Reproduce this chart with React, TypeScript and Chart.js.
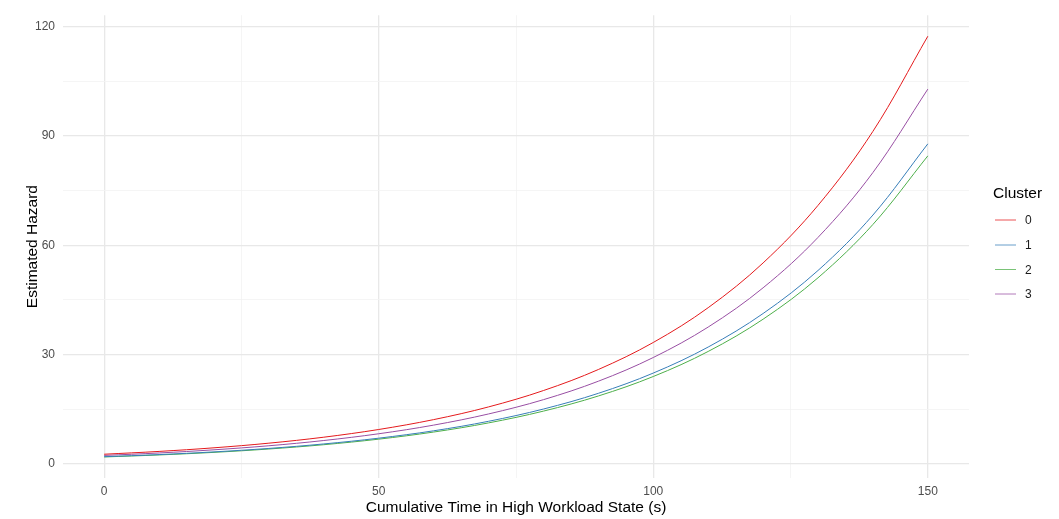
import React, { useEffect, useRef } from "react";
import { Chart, registerables } from "chart.js";

Chart.register(...registerables);

const timeValues = [0, 10, 20, 30, 40, 50, 60, 70, 80, 90, 100, 110, 120, 130, 140, 150];
const clusterLabels = ["0", "1", "2", "3"];
const cluster0 = [2.69, 3.46, 4.45, 5.72, 7.36, 9.47, 12.18, 15.66, 20.15, 25.92, 33.33, 42.87, 55.14, 70.92, 91.22, 117.3];
const cluster1 = [2.01, 2.59, 3.33, 4.28, 5.51, 7.09, 9.11, 11.72, 15.08, 19.39, 24.94, 32.08, 41.27, 53.07, 68.27, 87.8];
const cluster2 = [1.94, 2.49, 3.2, 4.12, 5.3, 6.82, 8.77, 11.28, 14.51, 18.66, 24.0, 30.87, 39.71, 51.07, 65.69, 84.5];
const cluster3 = [2.36, 3.03, 3.9, 5.01, 6.45, 8.3, 10.67, 13.73, 17.65, 22.71, 29.21, 37.56, 48.32, 62.14, 79.93, 102.8];
const seriesValues = [cluster0, cluster1, cluster2, cluster3];
const seriesColors = ["#E41A1C", "#377EB8", "#4DAF4A", "#984EA3"];
const xTickValues = [0, 25, 50, 75, 100, 125, 150];
const xMajor = [0, 50, 100, 150];
const yTickValues = [0, 15, 30, 45, 60, 75, 90, 105, 120];
const yMajor = [0, 30, 60, 90, 120];

const FONT = "'Liberation Sans', Arial, Helvetica, sans-serif";

const legendPlugin = {
  id: "ggLegend",
  afterDraw(chart: any) {
    const ctx = chart.ctx;
    ctx.save();
    ctx.fillStyle = "#000000";
    ctx.font = `15.5px ${FONT}`;
    ctx.textAlign = "left";
    ctx.textBaseline = "middle";
    ctx.fillText("Cluster", 993, 194);
    const ys = [220, 245, 269.5, 294];
    clusterLabels.forEach((lab, i) => {
      ctx.strokeStyle = seriesColors[i];
      ctx.globalAlpha = 0.75;
      ctx.lineWidth = 1;
      ctx.beginPath();
      ctx.moveTo(995, ys[i]);
      ctx.lineTo(1016, ys[i]);
      ctx.stroke();
      ctx.globalAlpha = 1;
      ctx.fillStyle = "#1A1A1A";
      ctx.font = `12px ${FONT}`;
      ctx.fillText(lab, 1025, ys[i] + 1);
    });
    ctx.restore();
  },
};

export default function App() {
  const canvasRef = useRef<HTMLCanvasElement | null>(null);

  useEffect(() => {
    if (!canvasRef.current) return;
    const chart = new Chart(canvasRef.current, {
      type: "line",
      data: {
        datasets: seriesValues.map((vals, i) => ({
          label: clusterLabels[i],
          data: vals.map((v, j) => ({ x: timeValues[j], y: v })),
          borderColor: seriesColors[i],
          backgroundColor: seriesColors[i],
          borderWidth: 1,
          pointRadius: 0,
          tension: 0.35,
          fill: false,
        })),
      },
      options: {
        animation: false,
        responsive: false,
        maintainAspectRatio: false,
        layout: { padding: { top: 13, right: 90, bottom: 0, left: 0 } },
        plugins: {
          legend: { display: false },
          tooltip: { enabled: false },
        },
        scales: {
          x: {
            type: "linear",
            min: -7.5,
            max: 157.5,
            afterBuildTicks: (scale: any) => {
              scale.ticks = xTickValues.map((v) => ({ value: v }));
            },
            afterFit: (scale: any) => {
              scale.height = 41;
            },
            border: { display: false },
            grid: {
              drawTicks: false,
              color: (c: any) => (xMajor.includes(c.tick?.value) ? "#E8E8E8" : "#F3F3F3"),
              lineWidth: (c: any) => (xMajor.includes(c.tick?.value) ? 1.3 : 0.8),
            },
            ticks: {
              autoSkip: false,
              maxRotation: 0,
              padding: 6,
              color: "#4D4D4D",
              font: { family: FONT, size: 12 },
              callback: (v: any) => (xMajor.includes(Number(v)) ? String(v) : ""),
            },
            title: {
              display: true,
              text: "Cumulative Time in High Workload State (s)",
              color: "#000000",
              font: { family: FONT, size: 15.5 },
              padding: { top: 0, bottom: 2 },
            },
          },
          y: {
            type: "linear",
            min: -3.83,
            max: 123.07,
            afterBuildTicks: (scale: any) => {
              scale.ticks = yTickValues.map((v) => ({ value: v }));
            },
            afterFit: (scale: any) => {
              scale.width = 63;
            },
            border: { display: false },
            grid: {
              drawTicks: false,
              color: (c: any) => (yMajor.includes(c.tick?.value) ? "#E8E8E8" : "#F3F3F3"),
              lineWidth: (c: any) => (yMajor.includes(c.tick?.value) ? 1.3 : 0.8),
            },
            ticks: {
              autoSkip: false,
              padding: 8,
              color: "#4D4D4D",
              font: { family: FONT, size: 12 },
              callback: (v: any) => (yMajor.includes(Number(v)) ? String(v) : ""),
            },
            title: {
              display: true,
              text: "Estimated Hazard",
              color: "#000000",
              font: { family: FONT, size: 15.5 },
              padding: { top: 23, bottom: 0 },
            },
          },
        },
      },
      plugins: [legendPlugin],
    });
    return () => chart.destroy();
  }, []);

  return (
    <div style={{ position: "fixed", left: 0, top: 0, width: 1059, height: 519, background: "#ffffff" }}>
      <canvas ref={canvasRef} width={1059} height={519} style={{ width: 1059, height: 519, display: "block" }} />
    </div>
  );
}
